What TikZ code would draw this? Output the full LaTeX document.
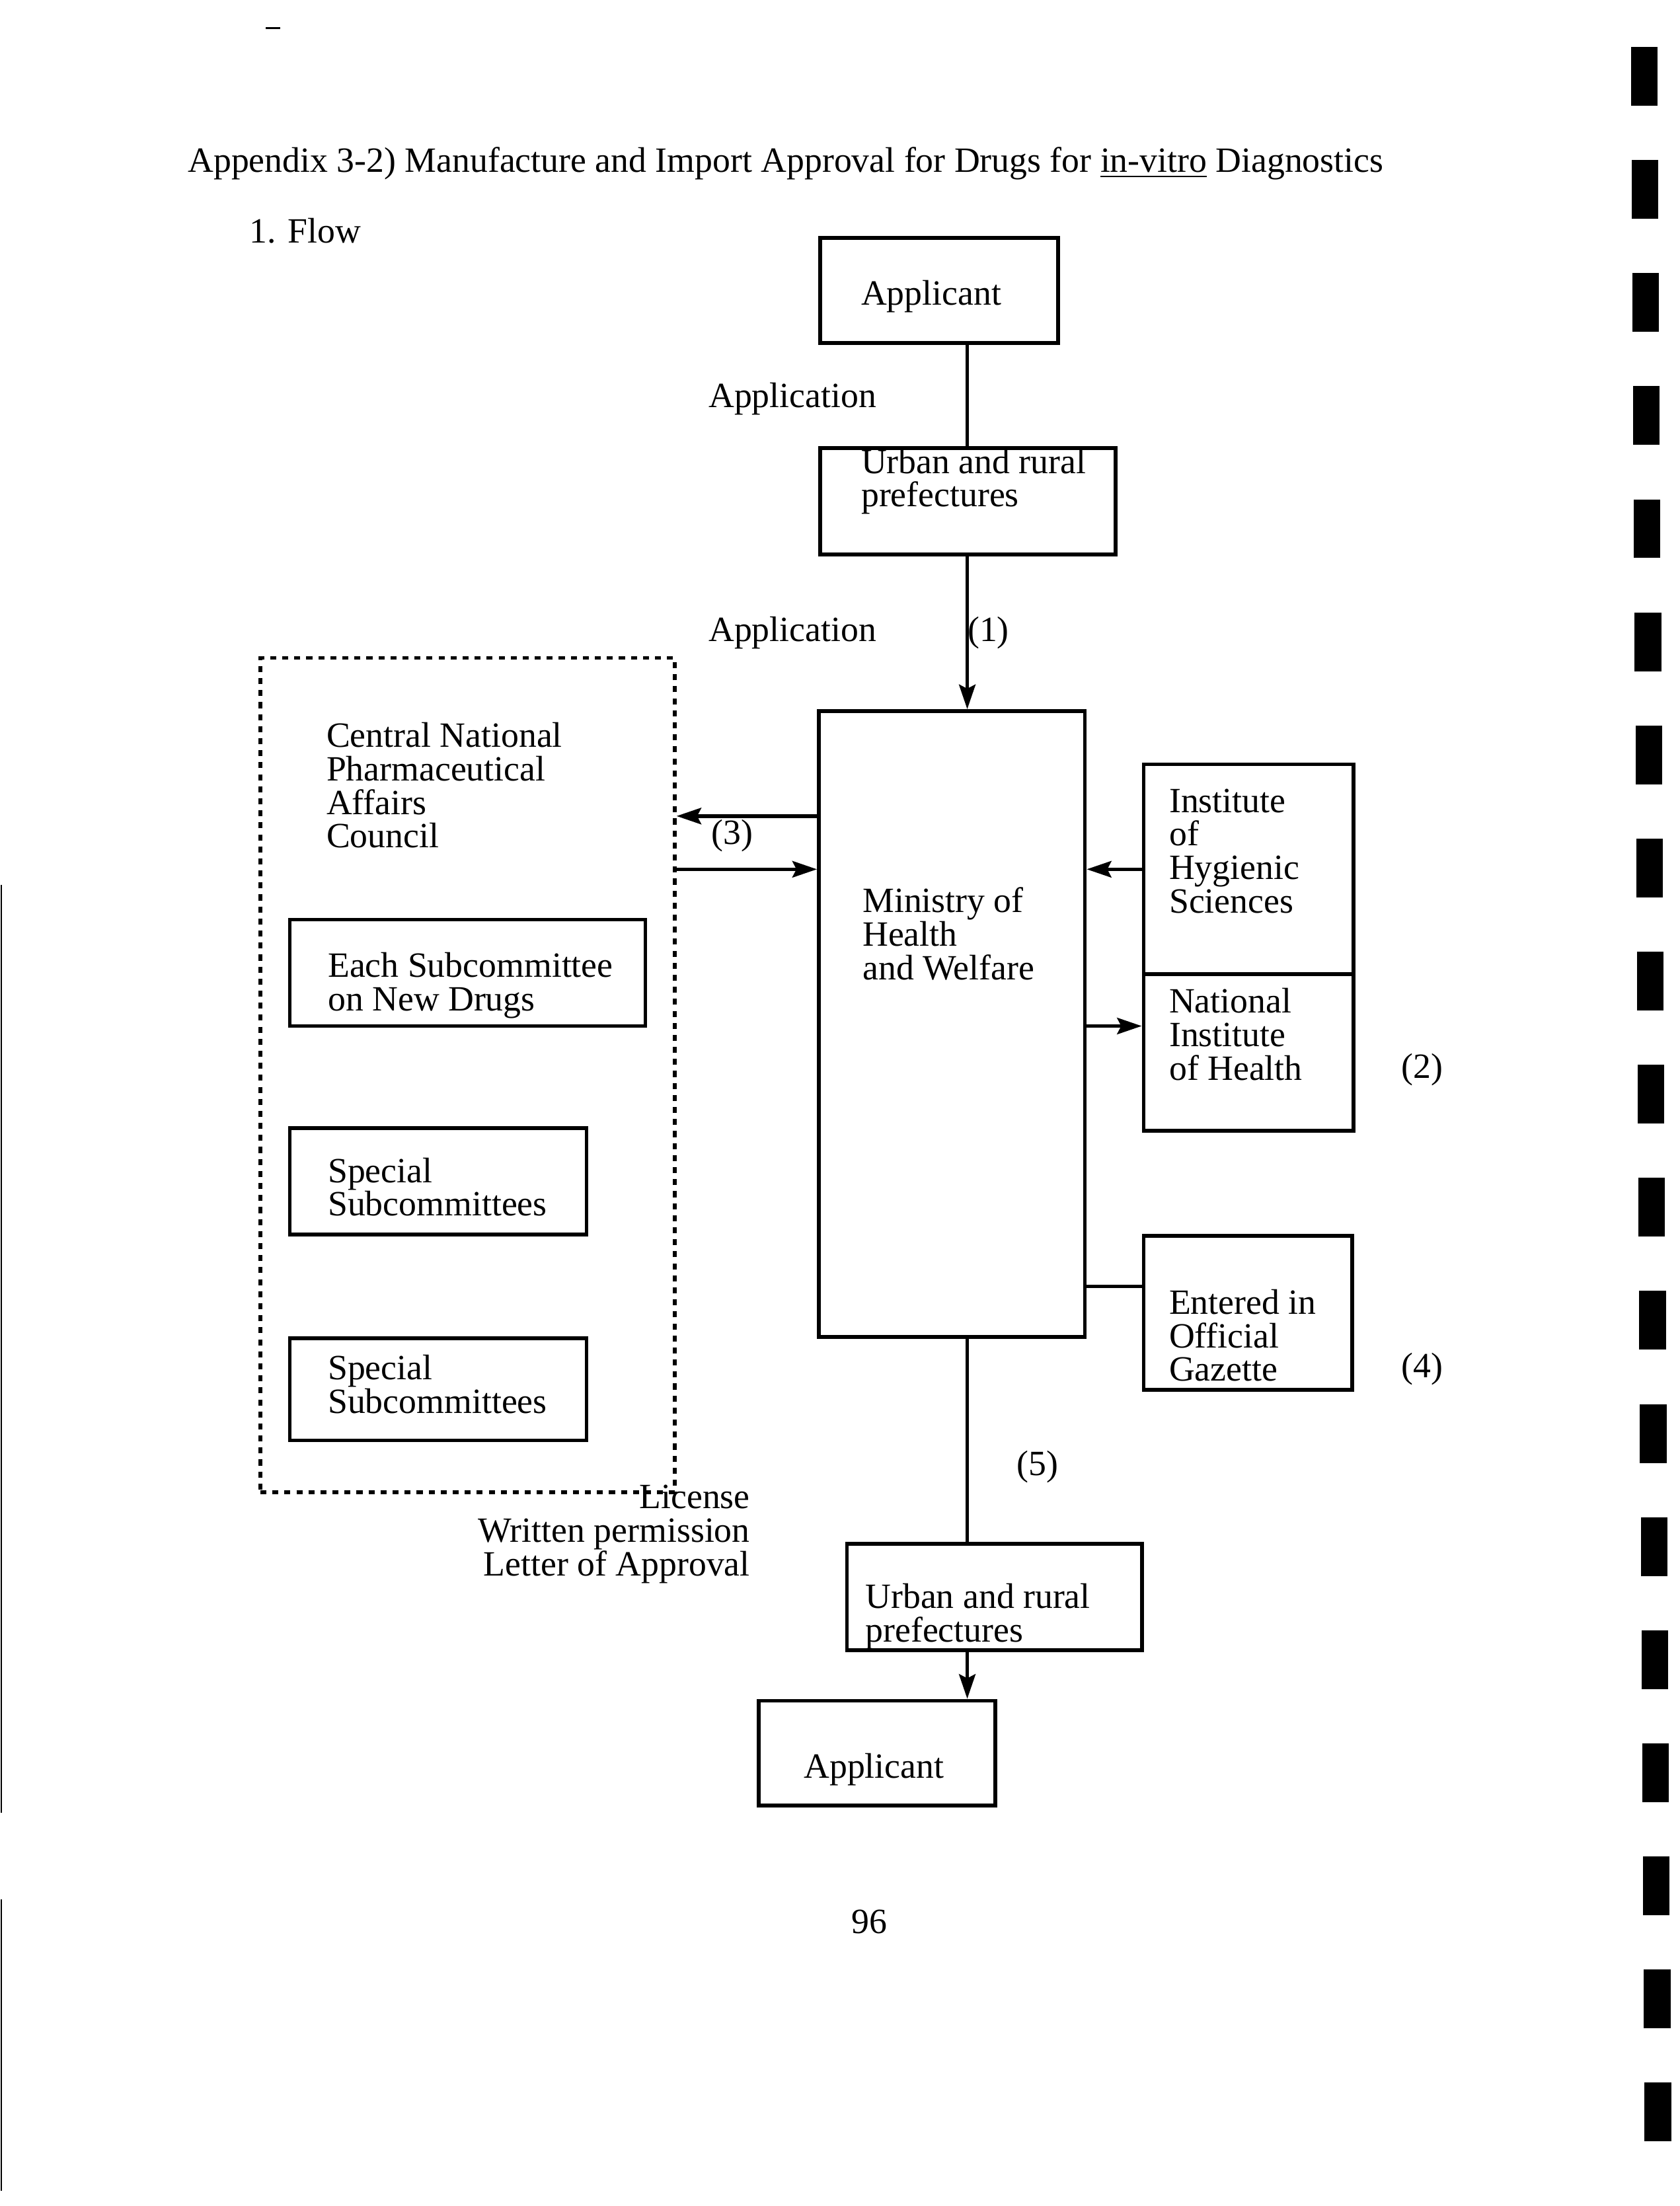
\documentclass[tikz,border=0pt]{standalone}
\usepackage{fontspec}
\setmainfont{Liberation Serif}
\usetikzlibrary{arrows.meta,fit}
\tikzset{box/.style={draw=black,line width=1.4pt,inner sep=0pt},
  dotbox/.style={draw=black,line width=1.4pt,dash pattern=on 2.2pt off 2.2pt,inner sep=0pt},
  lbl/.style={anchor=west,inner sep=0pt,align=left,font=\fontsize{13}{12.3}\selectfont},
  bar/.style={fill=black}}

\begin{document}
\begin{tikzpicture}[x=0.018cm, y=-0.018cm, >={Stealth[length=9pt,width=6pt,inset=1.5pt]}, line width=1.3pt]
\useasboundingbox (0,0) rectangle (1200,1576);

% heading
\node[lbl] (title) at (133,117) {Appendix 3-2) Manufacture and Import Approval for Drugs for \underline{in-vitro} Diagnostics};
\node[lbl] (flow) at (177,165) {1. Flow};

% boxes
\node[box, fit={(586,170) (756,245)}] (app1) {};
\node[box, fit={(586,320) (797,396)}] (pref1) {};
\node[dotbox, fit={(186,470) (482,1066)}] (council) {};
\node[box, fit={(585,508) (775,955)}] (mhw) {};
\node[box, fit={(207,657) (461,733)}] (subnew) {};
\node[box, fit={(207,806) (419,882)}] (spec1) {};
\node[box, fit={(207,956) (419,1029)}] (spec2) {};
\node[box, fit={(817,546) (967,696)}] (nihs) {};
\node[box, fit={(817,696) (967,808)}] (nih) {};
\node[box, fit={(817,883) (966,993)}] (gazette) {};
\node[box, fit={(605,1103) (816,1179)}] (pref2) {};
\node[box, fit={(542,1215) (711,1290)}] (app2) {};

% texts
\node[lbl] (tapp1) at (614,212) {Applicant};
\node[lbl] (tpref1) at (614,344) {Urban and rural\\prefectures};
\node[lbl] (tcouncil) at (232,561) {Central National\\Pharmaceutical\\Affairs\\Council};
\node[lbl] (tmhw) at (615,667) {Ministry of\\Health\\and Welfare};
\node[lbl] (tsubnew) at (233,704) {Each Subcommittee\\on New Drugs};
\node[lbl] (tspec1) at (233,848) {Special\\Subcommittees};
\node[lbl] (tspec2) at (233,989) {Special\\Subcommittees};
\node[lbl] (tnihs) at (834,608) {Institute\\of\\Hygienic\\Sciences};
\node[lbl] (tnih) at (834,739) {National\\Institute\\of Health};
\node[lbl] (tgazette) at (834,954) {Entered in\\Official\\Gazette};
\node[lbl] (tpref2) at (617,1155) {Urban and rural\\prefectures};
\node[lbl] (tapp2) at (573,1264) {Applicant};

% connector labels
\node[lbl] (lapp1) at (505,285) {Application};
\node[lbl] (lapp2) at (505,452) {Application};
\node[lbl] (l1) at (690,452) {(1)};
\node[lbl] (l3) at (507,597) {(3)};
\node[lbl] (l2) at (1000,764) {(2)};
\node[lbl] (l4) at (1000,978) {(4)};
\node[lbl] (l5) at (725,1048) {(5)};
\node[lbl, anchor=east, align=right] (llicense) at (537,1096) {License\\Written permission\\Letter of Approval};
\node[lbl] (page) at (607,1373) {96};

% connectors
\coordinate (spine) at (691,0);
\coordinate (r3a) at (0,583);
\coordinate (r3b) at (0,621);
\coordinate (r2) at (0,733);
\coordinate (r4) at (0,919);
\draw (app1.south -| spine) -- (pref1.north -| spine);
\draw[->] (pref1.south -| spine) -- (mhw.north -| spine);
\draw[->] (mhw.west |- r3a) -- (council.east |- r3a);
\draw[->] (council.east |- r3b) -- (mhw.west |- r3b);
\draw[->] (nihs.west |- r3b) -- (mhw.east |- r3b);
\draw[->] (mhw.east |- r2) -- (nih.west |- r2);
\draw (mhw.east |- r4) -- (gazette.west |- r4);
\draw (mhw.south -| spine) -- (pref2.north -| spine);
\draw[->] (pref2.south -| spine) -- (app2.north -| spine);

% scan marks
\foreach \k in {0,...,18}
  \fill[bar] (1165+0.55*\k,33.5+80.8*\k) rectangle (1184+0.55*\k,75.5+80.8*\k);
\draw[line width=0.6pt] (1,632) -- (1,1295);
\draw[line width=0.6pt] (1,1357) -- (1,1565);
\draw[line width=0.6pt] (190,20) -- (200,20);
\end{tikzpicture}
\end{document}
